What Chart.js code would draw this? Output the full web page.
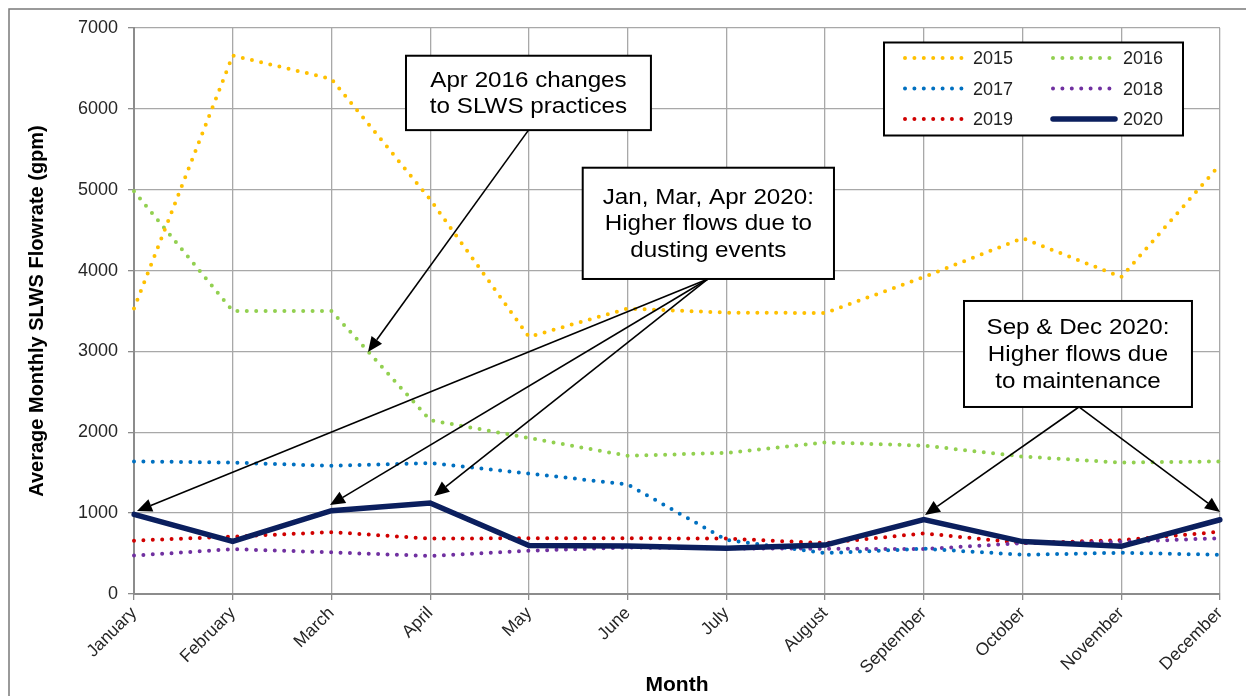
<!DOCTYPE html>
<html>
<head>
<meta charset="utf-8">
<style>
  html, body { margin: 0; padding: 0; background: #fff; }
  canvas { display: block; }
</style>
<script src="https://cdn.jsdelivr.net/npm/chart.js@4.4.1/dist/chart.umd.min.js"></script>
</head>
<body>
<canvas id="flowChart" width="1246" height="696"></canvas>
<script>
// monthly average SLWS flowrate (gpm)
var months = ['January', 'February', 'March', 'April', 'May', 'June',
              'July', 'August', 'September', 'October', 'November', 'December'];
var years = ['2015', '2016', '2017', '2018', '2019', '2020'];
var flow2015 = [3530, 6660, 6370, 4880, 3180, 3530, 3480, 3475, 3920, 4400, 3920, 5310];
var flow2016 = [4980, 3500, 3500, 2150, 1930, 1710, 1745, 1875, 1835, 1700, 1625, 1640];
var flow2017 = [1640, 1625, 1585, 1620, 1490, 1355, 670, 505, 560, 485, 510, 485];
var flow2018 = [475, 555, 515, 470, 535, 575, 565, 560, 555, 630, 645, 690];
var flow2019 = [660, 710, 765, 685, 690, 690, 685, 630, 750, 630, 665, 770];
var flow2020 = [985, 650, 1030, 1125, 600, 595, 565, 605, 920, 648, 590, 918];
var yTicks = [0, 1000, 2000, 3000, 4000, 5000, 6000, 7000];

// callouts, in axis units (month index, gpm)
var callouts = [
  { x0: 2.755, x1: 5.236, top: 6657, bottom: 5737,
    lines: ['Apr 2016 changes', 'to SLWS practices'],
    from: [3.996, 5737], to: [[2.37, 2993]] },
  { x0: 4.545, x1: 7.09, top: 5272, bottom: 3896,
    lines: ['Jan, Mar, Apr 2020:', 'Higher flows due to', 'dusting events'],
    from: [5.814, 3896], to: [[0.03, 1026], [1.985, 1100], [3.04, 1212]] },
  { x0: 8.407, x1: 10.716, top: 3624, bottom: 2313,
    lines: ['Sep & Dec 2020:', 'Higher flows due', 'to maintenance'],
    from: [9.571, 2313], to: [[8.012, 977], [11, 1014]] }
];

var FONT = "'Liberation Sans', Arial, sans-serif";

function dotted(label, data, color) {
  return {
    label: label, data: data,
    borderColor: color, backgroundColor: color,
    borderWidth: 4, borderDash: [0, 9.4], borderCapStyle: 'round',
    tension: 0, pointRadius: 0, fill: false
  };
}

function drawArrow(ctx, x0, y0, x1, y1) {
  var a = Math.atan2(y1 - y0, x1 - x0), L = 15, W = 6.5;
  var bx = x1 - L * Math.cos(a), by = y1 - L * Math.sin(a);
  ctx.beginPath();
  ctx.moveTo(x0, y0);
  ctx.lineTo(bx, by);
  ctx.stroke();
  ctx.beginPath();
  ctx.moveTo(x1, y1);
  ctx.lineTo(bx + W * Math.sin(a), by - W * Math.cos(a));
  ctx.lineTo(bx - W * Math.sin(a), by + W * Math.cos(a));
  ctx.closePath();
  ctx.fill();
}

var framePlugin = {
  id: 'frame',
  beforeDraw: function (chart) {
    var ctx = chart.ctx;
    ctx.save();
    ctx.fillStyle = '#fff';
    ctx.fillRect(0, 0, chart.width, chart.height);
    ctx.strokeStyle = '#7a7a7a';
    ctx.lineWidth = 1.5;
    ctx.strokeRect(9, 9, chart.width + 20, chart.height + 20);
    ctx.restore();
  }
};

var calloutPlugin = {
  id: 'callouts',
  afterDatasetsDraw: function (chart) {
    var ctx = chart.ctx, xs = chart.scales.x, ys = chart.scales.y;
    ctx.save();
    callouts.forEach(function (c) {
      var fx = xs.getPixelForValue(c.from[0]), fy = ys.getPixelForValue(c.from[1]);
      ctx.strokeStyle = '#000';
      ctx.fillStyle = '#000';
      ctx.lineWidth = 1.6;
      c.to.forEach(function (t) {
        drawArrow(ctx, fx, fy, xs.getPixelForValue(t[0]), ys.getPixelForValue(t[1]));
      });
      var left = xs.getPixelForValue(c.x0), right = xs.getPixelForValue(c.x1);
      var top = ys.getPixelForValue(c.top), bottom = ys.getPixelForValue(c.bottom);
      ctx.fillStyle = '#fff';
      ctx.fillRect(left, top, right - left, bottom - top);
      ctx.lineWidth = 2;
      ctx.strokeRect(left, top, right - left, bottom - top);
      ctx.fillStyle = '#000';
      ctx.font = '22px ' + FONT;
      ctx.textAlign = 'center';
      ctx.textBaseline = 'middle';
      var step = 26.8, cx = (left + right) / 2;
      var cy = (top + bottom) / 2 - step * (c.lines.length - 1) / 2 + 1;
      c.lines.forEach(function (line, i) {
        ctx.save();
        ctx.translate(cx, cy + i * step);
        ctx.scale(1.1, 1);
        ctx.fillText(line, 0, 0);
        ctx.restore();
      });
    });
    ctx.restore();
  }
};

var legendPlugin = {
  id: 'gridLegend',
  afterDraw: function (chart) {
    var ctx = chart.ctx, area = chart.chartArea;
    var w = 299, h = 93;
    var left = area.right - 37 - w, top = area.top + 14.5;
    ctx.save();
    ctx.fillStyle = '#fff';
    ctx.fillRect(left, top, w, h);
    ctx.strokeStyle = '#000';
    ctx.lineWidth = 2;
    ctx.strokeRect(left, top, w, h);
    chart.data.datasets.forEach(function (ds, i) {
      var col = i % 2, row = Math.floor(i / 2);
      var sx = left + 21 + col * 148, sy = top + 15.6 + row * 30.5;
      ctx.strokeStyle = ds.borderColor;
      ctx.lineWidth = ds.borderWidth;
      ctx.lineCap = 'round';
      ctx.setLineDash(ds.borderDash || []);
      ctx.beginPath();
      ctx.moveTo(sx, sy);
      ctx.lineTo(sx + (ds.borderDash ? 58 : 62), sy);
      ctx.stroke();
      ctx.setLineDash([]);
      ctx.fillStyle = '#222';
      ctx.font = '18px ' + FONT;
      ctx.textAlign = 'left';
      ctx.textBaseline = 'middle';
      ctx.fillText(ds.label, sx + (col === 0 ? 68 : 70), sy + 1);
    });
    ctx.restore();
  }
};

var axisGrid = {
  color: '#a8a8a8',
  lineWidth: 1.3,
  tickLength: 6,
  tickColor: '#8c8c8c',
  offset: false
};

var chart = new Chart(document.getElementById('flowChart'), {
  type: 'line',
  data: {
    labels: months,
    datasets: [
      dotted(years[0], flow2015, '#ffc000'),
      dotted(years[1], flow2016, '#92d050'),
      dotted(years[2], flow2017, '#0070c0'),
      dotted(years[3], flow2018, '#7030a0'),
      dotted(years[4], flow2019, '#d00000'),
      {
        label: years[5], data: flow2020,
        borderColor: '#0b1f5e', backgroundColor: '#0b1f5e',
        borderWidth: 5.5, borderCapStyle: 'round', borderJoinStyle: 'miter',
        tension: 0, pointRadius: 0, fill: false, order: -1
      }
    ]
  },
  options: {
    responsive: false,
    animation: false,
    devicePixelRatio: 1,
    layout: { padding: { top: 28, right: 26, left: 0, bottom: 0 } },
    plugins: {
      legend: { display: false },
      tooltip: { enabled: false }
    },
    scales: {
      x: {
        type: 'category',
        offset: false,
        grid: axisGrid,
        border: { color: '#8c8c8c', width: 2 },
        ticks: {
          autoSkip: false, minRotation: 45, maxRotation: 45, padding: 3,
          color: '#262626', font: { family: FONT, size: 17.5 }
        },
        title: {
          display: true, text: 'Month', color: '#000', padding: 0,
          font: { family: FONT, size: 21, weight: 'bold', lineHeight: 1 }
        },
        afterFit: function (scale) { scale.height = 102; }
      },
      y: {
        min: yTicks[0],
        max: yTicks[yTicks.length - 1],
        afterBuildTicks: function (scale) {
          scale.ticks = yTicks.map(function (v) { return { value: v }; });
        },
        grid: axisGrid,
        border: { color: '#8c8c8c', width: 2 },
        ticks: {
          padding: 10, color: '#262626', font: { family: FONT, size: 18 },
          callback: function (v) { return String(v); }
        },
        title: {
          display: true, text: 'Average Monthly SLWS Flowrate (gpm)', color: '#000',
          padding: { top: 27, bottom: 0 },
          font: { family: FONT, size: 20, weight: 'bold', lineHeight: 1 }
        },
        afterFit: function (scale) { scale.width = 134; }
      }
    }
  },
  plugins: [framePlugin, calloutPlugin, legendPlugin]
});
</script>
</body>
</html>
